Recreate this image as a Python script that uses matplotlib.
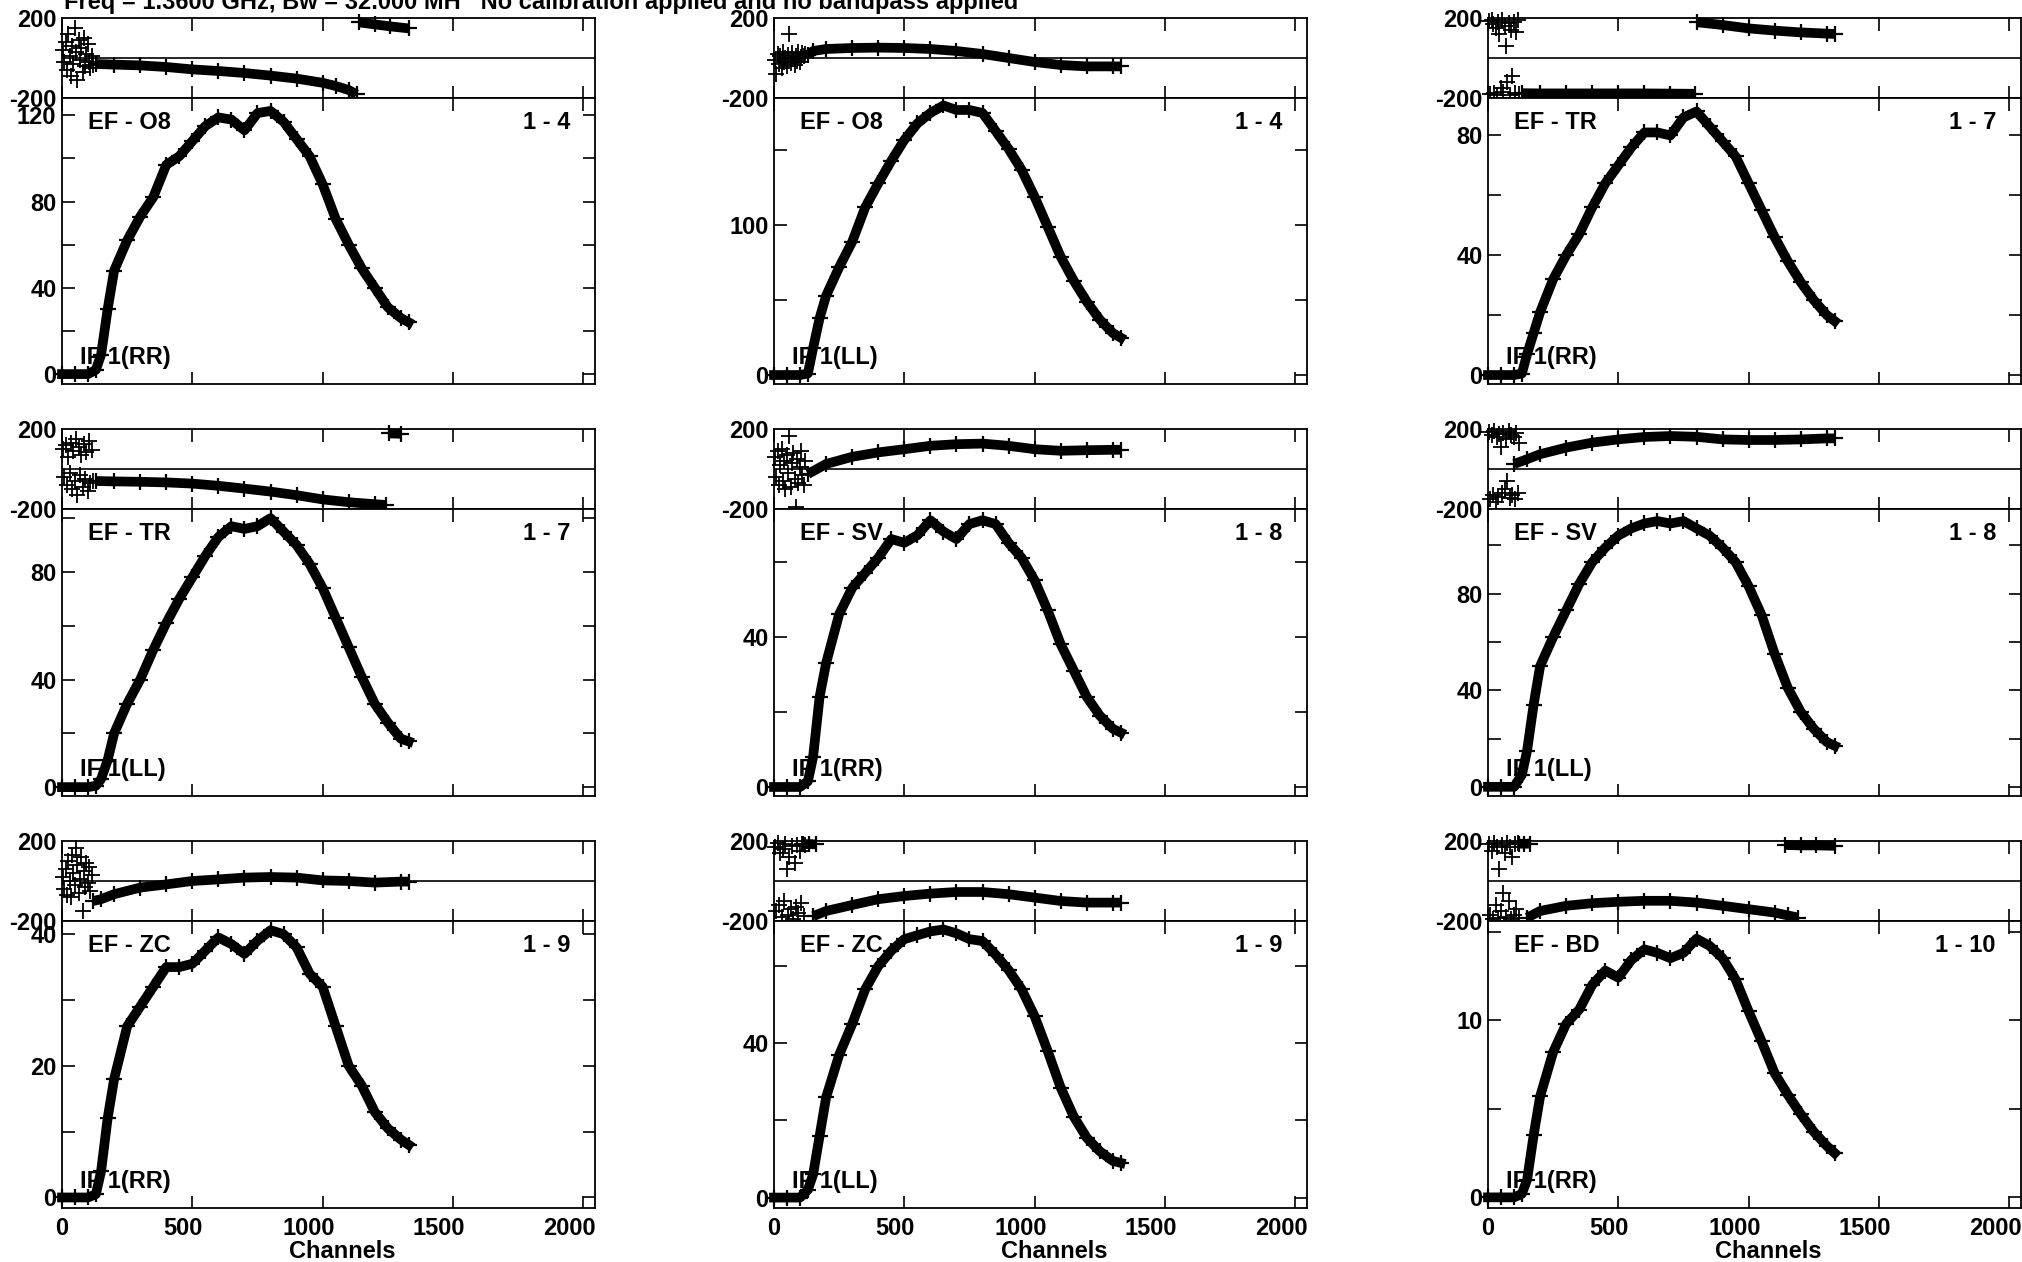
import matplotlib
matplotlib.use("Agg")
import matplotlib.pyplot as plt
from matplotlib.ticker import MultipleLocator
import numpy as np

plt.rcParams['font.family'] = ['Liberation Sans', 'DejaVu Sans']
plt.rcParams['font.weight'] = 'bold'
plt.rcParams['font.size'] = 17

nan = np.nan

TITLE = "Freq = 1.3600 GHz, Bw = 32.000 MH   No calibration applied and no bandpass applied"

baselines = ["EF - O8", "EF - O8", "EF - TR", "EF - TR", "EF - SV", "EF - SV", "EF - ZC", "EF - ZC", "EF - BD"]
antennas = ["1 - 4", "1 - 4", "1 - 7", "1 - 7", "1 - 8", "1 - 8", "1 - 9", "1 - 9", "1 - 10"]
pols = ["IF 1(RR)", "IF 1(LL)", "IF 1(RR)", "IF 1(LL)", "IF 1(RR)", "IF 1(LL)", "IF 1(RR)", "IF 1(LL)", "IF 1(RR)"]

x_ticks = [0, 500, 1000, 1500, 2000]
x_ticklabels = ["0", "500", "1000", "1500", "2000"]

CHAN = [0, 50, 100, 130, 150, 175, 200, 250, 300, 350, 400, 450, 500, 550, 600, 650, 700,
        750, 800, 850, 900, 950, 1000, 1050, 1100, 1150, 1200, 1250, 1300, 1330]

amp_o8_rr = [0, 0, 0, 2, 9, 30, 48, 62, 73, 82, 97, 101, 108, 115, 119, 118, 113,
             121, 122, 117, 109, 101, 88, 72, 60, 49, 40, 31, 26, 24]
amp_o8_ll = [0, 0, 0, 1, 18, 38, 53, 72, 89, 112, 128, 143, 157, 168, 175, 180, 177,
             177, 175, 163, 151, 137, 119, 99, 79, 63, 49, 37, 28, 25]
amp_tr_rr = [0, 0, 0, 0.5, 7, 14, 21, 32, 40, 47, 56, 64, 70, 76, 81, 81, 80,
             86, 88, 83, 78, 73, 64, 55, 46, 38, 31, 25, 20, 18]
amp_tr_ll = [0, 0, 0, 0.5, 3, 10, 20, 31, 40, 51, 61, 70, 78, 86, 93, 97, 96,
             97, 100, 95, 90, 83, 74, 63, 52, 41, 31, 24, 18, 17]
amp_sv_rr = [0, 0, 0, 1.5, 8, 24, 33, 46, 53, 57, 61, 66, 65, 67, 71, 68, 66,
             70, 71, 70, 65, 61, 55, 47, 38, 31, 24, 19, 15.5, 14.5]
amp_sv_ll = [0, 0, 0, 5, 15, 34, 50, 62, 73, 84, 93, 99, 104, 107, 109, 110, 109,
             110, 107, 104, 99, 93, 83, 71, 55, 41, 31, 24, 18.5, 17]
amp_zc_rr = [0, 0, 0, 0.5, 4, 12, 18, 26, 29, 32, 35, 35, 35.5, 37.5, 39.5, 38.5, 37,
             39, 40.6, 40, 38, 34, 32, 26, 20, 17, 13, 10.5, 8.8, 8]
amp_zc_ll = [0, 0, 0, 2, 6, 16, 26, 37, 45, 54, 60, 64, 67, 68, 69, 69.5, 68.5,
             67, 66.5, 63, 59, 54, 47, 38, 28.5, 21, 15.5, 12, 9.5, 9]
amp_bd_rr = [0, 0, 0, 0.2, 1, 3.5, 5.7, 8.2, 9.8, 10.6, 12, 12.8, 12.4, 13.4, 14, 13.8, 13.5,
             13.8, 14.6, 14.2, 13.5, 12.3, 10.5, 8.8, 7, 5.8, 4.7, 3.7, 2.9, 2.5]

# phase (degrees), nan where the trace wraps round
ph_ch_o8_rr = [130, 200, 300, 400, 500, 600, 700, 800, 900, 1000, 1050, 1100, 1130, nan, 1140, 1200, 1260, 1330]
ph_o8_rr = [-30, -33, -37, -45, -57, -65, -75, -88, -103, -124, -140, -160, -182, nan, 178, 168, 158, 148]
ph_ch_o8_ll = [130, 150, 200, 300, 400, 500, 600, 700, 800, 900, 1000, 1100, 1200, 1300, 1330]
ph_o8_ll = [15, 35, 45, 50, 52, 50, 45, 35, 20, 0, -20, -35, -42, -42, -42]
ph_ch_tr_rr = [130, 200, 300, 400, 500, 600, 700, 795, nan, 800, 900, 1000, 1100, 1200, 1300, 1330]
ph_tr_rr = [-176, -177, -177, -177, -177, -177, -178, -179, nan, 179, 165, 148, 137, 128, 122, 120]
ph_ch_tr_ll = [130, 200, 300, 400, 500, 600, 700, 800, 900, 1000, 1100, 1200, 1245, nan, 1255, 1300]
ph_tr_ll = [-60, -62, -64, -67, -73, -84, -98, -113, -131, -152, -166, -176, -180, nan, 178, 176]
ph_ch_sv_rr = [130, 200, 300, 400, 500, 600, 700, 800, 900, 1000, 1100, 1200, 1300, 1330]
ph_sv_rr = [-25, 25, 61, 83, 99, 116, 124, 127, 116, 99, 91, 94, 96, 96]
ph_ch_sv_ll = [100, 150, 200, 300, 400, 500, 600, 700, 800, 900, 1000, 1100, 1200, 1300, 1330]
ph_sv_ll = [25, 49, 74, 107, 132, 148, 160, 165, 161, 148, 145, 145, 148, 153, 153]
ph_ch_zc_rr = [120, 150, 200, 300, 400, 500, 600, 700, 800, 900, 1000, 1100, 1200, 1300, 1330]
ph_zc_rr = [-100, -91, -66, -33, -17, 0, 8, 17, 20, 17, 3, 0, -8, -3, -3]
ph_ch_zc_ll = [110, 135, 160, nan, 150, 200, 300, 400, 500, 600, 700, 800, 900, 1000, 1100, 1200, 1300, 1330]
ph_zc_ll = [183, 185, 183, nan, -176, -150, -120, -91, -75, -63, -55, -55, -66, -83, -100, -108, -108, -108]
ph_ch_bd_rr = [120, 140, 160, nan, 150, 200, 300, 400, 500, 600, 700, 800, 900, 1000, 1100, 1150, 1190,
               nan, 1140, 1200, 1260, 1330]
ph_bd_rr = [187, 186, 187, nan, -183, -150, -124, -111, -104, -99, -99, -108, -124, -141, -158, -172, -183,
            nan, 180, 178, 178, 176]

# noisy phases in the band edge below ~120 channels
NOISE_CH = [4, 9, 14, 19, 24, 29, 34, 39, 44, 49, 54, 59, 64, 69, 74, 79, 84, 89, 94, 99, 104, 109, 114, 119]
noise_o8_rr = [40, -20, 80, -60, 120, 10, -90, 60, -30, 150, 30, -110, 90, -10, 50, -70, 100, -40, 20, 70, -20, -50, 10, -35]
noise_o8_ll = [-10, -78, 20, -30, 10, -50, 30, -20, 0, -40, 15, 118, -25, 25, -5, -35, 10, -15, 30, -20, 5, 25, 10, 20]
noise_tr_rr = [185, -180, 190, 170, -175, 150, -185, 180, 120, -150, 190, -170, 160, 60, -120, 175, -185, 140, -90, 180, -175, 130, 190, -178]
noise_tr_ll = [100, -40, 120, -80, 60, -20, 130, -100, 90, -60, 150, -130, 110, -30, 70, -90, 125, -50, 85, -110, 140, -70, 95, -60]
noise_sv_rr = [60, -40, 90, -80, 20, 100, -60, 40, -100, 70, -20, 165, -90, 30, 80, -50, -190, 50, -70, 10, 90, -30, -80, 40]
noise_sv_ll = [185, -150, 170, -130, 190, -165, 160, -140, 175, 110, -120, 180, -100, 150, -60, 190, -145, 170, -130, 160, -150, 180, -120, 130]
noise_zc_rr = [20, -40, 60, -70, 100, 0, -80, 130, 40, -20, 166, 80, -60, 10, 120, -150, 50, -30, 90, -10, 70, -50, 30, -100]
noise_zc_ll = [170, -150, 190, -120, 140, -180, 160, -100, 185, 60, -170, 120, -140, 175, -190, 90, -130, 180, -160, 150, -110, 185, -175, 180]
noise_bd_rr = [185, -170, 150, -190, 190, -120, 170, -185, 60, -150, 180, -60, 140, -180, 190, -100, 170, -190, 120, -170, 185, -140, 190, -185]

amps = [amp_o8_rr, amp_o8_ll, amp_tr_rr, amp_tr_ll, amp_sv_rr, amp_sv_ll, amp_zc_rr, amp_zc_ll, amp_bd_rr]
ph_chs = [ph_ch_o8_rr, ph_ch_o8_ll, ph_ch_tr_rr, ph_ch_tr_ll, ph_ch_sv_rr, ph_ch_sv_ll, ph_ch_zc_rr, ph_ch_zc_ll, ph_ch_bd_rr]
phs = [ph_o8_rr, ph_o8_ll, ph_tr_rr, ph_tr_ll, ph_sv_rr, ph_sv_ll, ph_zc_rr, ph_zc_ll, ph_bd_rr]
noises = [noise_o8_rr, noise_o8_ll, noise_tr_rr, noise_tr_ll, noise_sv_rr, noise_sv_ll, noise_zc_rr, noise_zc_ll, noise_bd_rr]

# amplitude axis ranges and tick steps per panel
amp_lims = [(-4.6, 128), (-6, 185), (-3, 92.5), (-3.3, 103.4), (-2.4, 74), (-3.8, 115), (-1.6, 42), (-2.7, 71.7), (-0.6, 15.6)]
amp_steps = [40, 100, 40, 40, 40, 40, 20, 40, 10]

W, H = 2022, 1262
fig = plt.figure(figsize=(W / 100, H / 100), dpi=100)

col_left = [62, 774, 1488]
col_w = 533
rows = [(18, 98, 384), (429, 509, 796), (841, 921, 1208)]
# AIPS puts the channel numbers a little left of their ticks
label_shift = [0, -6.5, -10, -10, -10]

fig.text(64 / W, 1 - 9 / H, TITLE, ha='left', va='baseline', fontsize=17, fontweight='bold')

for i in range(9):
    r, c = divmod(i, 3)
    top, mid, bot = rows[r]
    left = col_left[c]

    axp = fig.add_axes([left / W, 1 - mid / H, col_w / W, (mid - top) / H])
    axa = fig.add_axes([left / W, 1 - bot / H, col_w / W, (bot - mid) / H])

    # phase panel
    axp.axhline(0, color='black', lw=1.2, zorder=1)
    axp.plot(NOISE_CH, noises[i], '+', color='black', ms=12, mew=1.3, clip_on=False, zorder=3)
    axp.plot(ph_chs[i], phs[i], '-', color='black', lw=7, marker='+', ms=11, mew=1.6,
             solid_capstyle='butt', clip_on=False, zorder=3)
    axp.set_xlim(0, 2045)
    axp.set_ylim(-200, 200)
    axp.set_xticks(x_ticks)
    axp.set_yticks([-200, 200])
    axp.set_yticklabels(['-200', '200'])
    axp.tick_params(axis='x', direction='in', top=True, bottom=True, labelbottom=False,
                    length=9, width=1.2)
    axp.tick_params(axis='y', length=0, pad=4, labelsize=17)

    # amplitude panel
    axa.plot(CHAN, amps[i], '-', color='black', lw=7, marker='+', ms=11, mew=1.6,
             clip_on=False, zorder=3)
    axa.set_xlim(0, 2045)
    axa.set_ylim(*amp_lims[i])
    axa.set_xticks(x_ticks)
    axa.yaxis.set_major_locator(MultipleLocator(amp_steps[i]))
    axa.yaxis.set_minor_locator(MultipleLocator(amp_steps[i] / 2))
    axa.tick_params(axis='both', which='both', direction='in', top=True, right=True,
                    length=9, width=1.2, labelsize=17, labelbottom=False)
    axa.tick_params(axis='y', pad=4)
    if r == 2:
        for t, lab, dx in zip(x_ticks, x_ticklabels, label_shift):
            axa.annotate(lab, xy=(t, 0), xycoords=axa.get_xaxis_transform(),
                         xytext=(dx, -15), textcoords='offset points',
                         ha='center', va='center', annotation_clip=False)
        axa.annotate('Channels', xy=(0.525, 0), xycoords='axes fraction',
                     xytext=(0, -31), textcoords='offset points',
                     ha='center', va='center', annotation_clip=False)

    for ax in (axp, axa):
        for s in ax.spines.values():
            s.set_linewidth(1.3)

    axa.text(0.049, 0.916, baselines[i], transform=axa.transAxes, ha='left', va='center', zorder=1)
    axa.text(0.953, 0.916, antennas[i], transform=axa.transAxes, ha='right', va='center', zorder=1)
    axa.text(0.033, 0.094, pols[i], transform=axa.transAxes, ha='left', va='center', zorder=1)

fig.savefig('out.png', dpi=100)
